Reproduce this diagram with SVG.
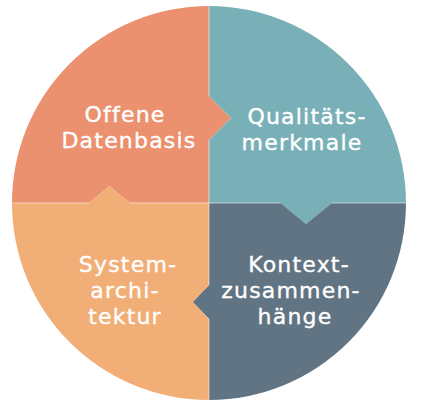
<svg xmlns="http://www.w3.org/2000/svg" width="433" height="402" viewBox="0 0 433 402">
  <style>
    .label { font-family: "DejaVu Sans", "Liberation Sans", sans-serif; font-size: 22px; letter-spacing: 1.2px; fill: #ffffff; stroke: #ffffff; stroke-width: 0.35px; text-anchor: middle; }
    .seam { stroke: #ffffff; stroke-opacity: 0.55; stroke-width: 1; fill: none; }
  </style>
  <rect width="433" height="402" fill="#ffffff"/>

  <!-- Four interlocking quarter segments of one circle, centre (209,203), r=197 -->
  <g id="offene-datenbasis">
    <path fill="#EB916F" d="M209,203 L130,203 L109.3,186 L89,203 L12,203 A197,197 0 0 1 209,6 L209,96 L231,118 L209,140 Z"/>
    <text class="label" x="125" y="122">Offene</text>
    <text class="label" x="129" y="148">Datenbasis</text>
  </g>

  <g id="qualitaetsmerkmale">
    <path fill="#79B0B8" d="M209,6 A197,197 0 0 1 406,203 L331.7,203 L306,224 L280.7,203 L209,203 L209,140 L231,118 L209,96 Z"/>
    <text class="label" x="307" y="124">Qualitäts-</text>
    <text class="label" x="302" y="150">merkmale</text>
  </g>

  <g id="kontextzusammenhaenge">
    <path fill="#617483" d="M406,203 A197,197 0 0 1 209,400 L209,319 L192.7,302 L209,285 L209,203 L280.7,203 L306,224 L331.7,203 Z"/>
    <text class="label" x="299" y="272">Kontext-</text>
    <text class="label" x="291" y="298">zusammen-</text>
    <text class="label" x="295" y="324">hänge</text>
  </g>

  <g id="systemarchitektur">
    <path fill="#F1AE77" d="M209,400 A197,197 0 0 1 12,203 L89,203 L109.3,186 L130,203 L209,203 L209,285 L192.7,302 L209,319 Z"/>
    <text class="label" x="128" y="272">System-</text>
    <text class="label" x="125" y="298">archi-</text>
    <text class="label" x="125" y="324">tektur</text>
  </g>

  <!-- thin light seams along the straight joints -->
  <g id="seams">
    <path class="seam" d="M12,203 H89 M130,203 H280.7 M331.7,203 H406 M209,6 V96 M209,140 V285 M209,319 V400"/>
  </g>
</svg>
